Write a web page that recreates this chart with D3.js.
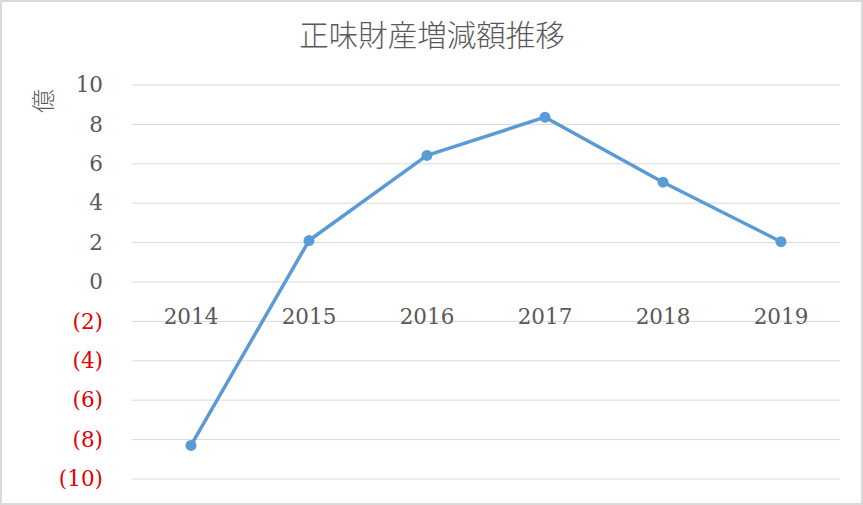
<!DOCTYPE html>
<html>
<head>
<meta charset="utf-8">
<script src="https://cdn.jsdelivr.net/npm/d3@7"></script>
<style>
  html, body { margin: 0; padding: 0; background: #fff; }
  .grid line { stroke: #d9d9d9; stroke-width: 1; }
  .grid .domain { display: none; }
</style>
</head>
<body>
<div id="chart"></div>
<script>
var years = ["2014", "2015", "2016", "2017", "2018", "2019"];
var values = [-8.32, 2.08, 6.4, 8.34, 5.04, 2.02];
var yTicks = [-10, -8, -6, -4, -2, 0, 2, 4, 6, 8, 10];
var chartTitle = "正味財産増減額推移";
var yTitle = "億";

var width = 863,
    height = 505,
    margins = {top: 84.5, right: 23, bottom: 26.5, left: 132};

var svg = d3.select("#chart")
    .append("svg")
        .attr("width", width)
        .attr("height", height);

/* Border */
svg.append("rect")
    .attr("x", 1).attr("y", 1)
    .attr("width", width - 2).attr("height", height - 2)
    .attr("fill", "#fff")
    .attr("stroke", "#d9d9d9")
    .attr("stroke-width", 2);

var w = width - margins.left - margins.right,
    h = height - margins.top - margins.bottom;

var main = svg.append("g")
    .attr("transform", "translate(" + margins.left + "," + margins.top + ")");

/* Scales */
var x = d3.scaleBand()
    .domain(years)
    .range([0, w]);
var y = d3.scaleLinear()
    .domain([-10, 10])
    .range([h, 0]);

/* Grid lines */
main.append("g")
    .attr("class", "grid")
    .call(d3.axisLeft(y).tickValues(yTicks).tickSize(-w).tickFormat(""));

/* Y tick labels */
main.selectAll(".ylabel")
    .data(yTicks)
    .enter()
    .append("text")
        .attr("class", "ylabel")
        .attr("x", -29)
        .attr("y", function(d){ return y(d); })
        .attr("dy", "0.36em")
        .attr("text-anchor", "end")
        .attr("font-family", "'DejaVu Serif', serif")
        .attr("font-size", 21.5)
        .attr("fill", function(d){ return d < 0 ? "#e60000" : "#595959"; })
        .text(function(d){ return d < 0 ? "(" + (-d) + ")" : d; });

/* Category labels, sitting just below the zero line */
main.selectAll(".xlabel")
    .data(years)
    .enter()
    .append("text")
        .attr("class", "xlabel")
        .attr("x", function(d){ return x(d) + x.bandwidth() / 2; })
        .attr("y", y(0) + 42)
        .attr("text-anchor", "middle")
        .attr("font-family", "'DejaVu Serif', serif")
        .attr("font-size", 21.5)
        .attr("fill", "#595959")
        .text(function(d){ return d; });

/* Line */
var line = d3.line()
    .x(function(d, i){ return x(years[i]) + x.bandwidth() / 2; })
    .y(function(d){ return y(d); });

main.append("path")
    .datum(values)
    .attr("d", line)
    .attr("fill", "none")
    .attr("stroke", "#5b9bd5")
    .attr("stroke-width", 3.5)
    .attr("stroke-linejoin", "round");

main.selectAll(".dot")
    .data(values)
    .enter()
    .append("circle")
        .attr("class", "dot")
        .attr("cx", function(d, i){ return x(years[i]) + x.bandwidth() / 2; })
        .attr("cy", function(d){ return y(d); })
        .attr("r", 5.5)
        .attr("fill", "#5b9bd5");

/* Titles */
svg.append("text")
    .attr("x", 432)
    .attr("y", 46)
    .attr("text-anchor", "middle")
    .attr("font-family", "'Noto Sans CJK JP', sans-serif")
    .attr("font-weight", 300)
    .attr("font-size", 29.5)
    .attr("fill", "#595959")
    .text(chartTitle);

svg.append("text")
    .attr("transform", "translate(52,101) rotate(-90)")
    .attr("text-anchor", "middle")
    .attr("font-family", "'Noto Sans CJK JP', sans-serif")
    .attr("font-weight", 300)
    .attr("font-size", 24)
    .attr("fill", "#595959")
    .text(yTitle);
</script>
</body>
</html>
